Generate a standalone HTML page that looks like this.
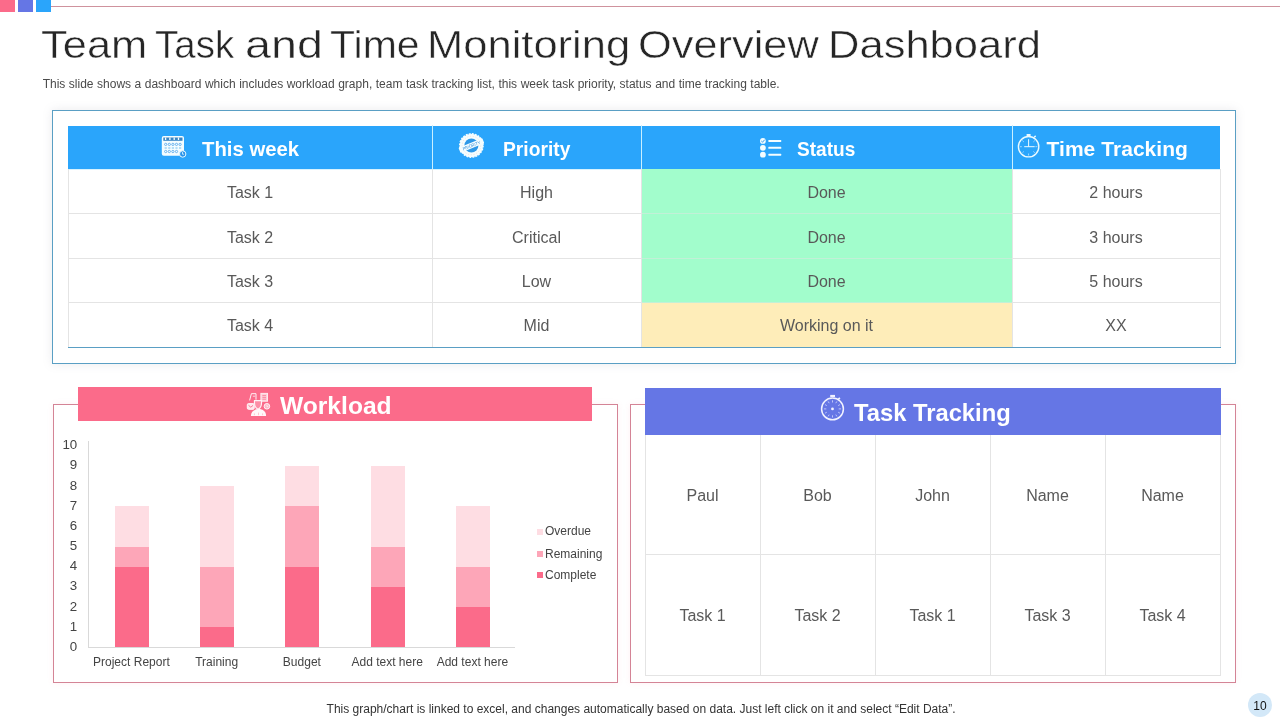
<!DOCTYPE html>
<html lang="en">
<head>
<meta charset="utf-8">
<title>Team Task and Time Monitoring Overview Dashboard</title>
<style>
*{box-sizing:border-box;margin:0;padding:0}
html,body{width:1280px;height:720px;overflow:hidden;background:#fff}
body{position:relative;font-family:"Liberation Sans",Arial,sans-serif;color:#555}
.abs{position:absolute}
svg{position:absolute;overflow:visible}
.sq{position:absolute;top:0;height:11.5px;width:15px}
.title{position:absolute;left:0;top:21px;width:1280px;height:48px;font-size:39px;line-height:48px;color:#262626;white-space:nowrap}
.title span{position:absolute;top:0;display:block;transform-origin:0 0;-webkit-text-stroke:.5px #fff}
.sub{position:absolute;left:42.7px;top:77px;font-size:12px;line-height:14px;color:#4a4a4a;white-space:nowrap;word-spacing:.17px}
.panel1{position:absolute;left:52px;top:110px;width:1184px;height:254px;border:1px solid #5a9fc4;box-shadow:0 0 9px rgba(130,130,150,.17);background:#fff}
.t1{position:absolute;left:68px;top:125px;width:1153px;height:223px}
.t1 .hd{position:absolute;top:.5px;height:43.5px;background:#2aa5fb}
.t1 .c{position:absolute;font-size:16px;line-height:18px;text-align:center;color:#595959;white-space:nowrap}
.hl{position:absolute;background:#e4e4e4}
.htxt{position:absolute;transform-origin:0 0;top:10.5px;line-height:26px;white-space:nowrap;color:#fff;font-weight:bold;font-size:21px}
.panel2{position:absolute;left:53px;top:404px;width:565px;height:279px;border:1px solid #d48496;box-shadow:0 0 6px rgba(250,120,150,.10)}
.panel3{position:absolute;left:630px;top:404px;width:606px;height:279px;border:1px solid #d48496;box-shadow:0 0 6px rgba(250,120,150,.10)}
.wl{position:absolute;left:78px;top:387px;width:514px;height:34px;background:#fb6b8a}
.tt{position:absolute;left:645px;top:387.6px;width:576px;height:47px;background:#6576e5}
.ptxt{position:absolute;white-space:nowrap;color:#fff;font-weight:bold;font-size:24px;line-height:28px;transform-origin:0 0}
.yl{position:absolute;left:50px;width:27.2px;text-align:right;font-size:13.3px;line-height:16px;color:#444}
.xl{position:absolute;top:654.5px;width:100px;text-align:center;font-size:12px;line-height:14px;color:#444;white-space:nowrap}
.bar{position:absolute;width:34px}
.lg{position:absolute;left:537px;width:6px;height:6px}
.lt{position:absolute;left:545px;font-size:12px;line-height:14px;color:#444;white-space:nowrap}
.c2{position:absolute;width:115px;text-align:center;font-size:16px;line-height:18px;color:#595959}
.foot{position:absolute;left:326.6px;top:702px;font-size:12px;line-height:14px;color:#333;white-space:nowrap}
.pn{position:absolute;left:1248px;top:693px;width:24px;height:24px;border-radius:50%;background:#d3e8f8;font-size:12px;line-height:26px;text-align:center;color:#111}
</style>
</head>
<body>
<!-- top decoration -->
<div class="abs" style="left:51px;top:6px;width:1229px;height:1px;background:#cf929d"></div>
<div class="sq" style="left:0;background:#fb6b8a"></div>
<div class="sq" style="left:18px;background:#6576e5"></div>
<div class="sq" style="left:36px;background:#2aa5fb"></div>
<div class="title"><span style="left:40.9px;transform:scaleX(1.1141)">Team</span> <span style="left:154.8px;transform:scaleX(0.9873)">Task</span> <span style="left:244.6px;transform:scaleX(1.1967)">and</span> <span style="left:330.2px;transform:scaleX(1.0518)">Time</span> <span style="left:426.7px;transform:scaleX(1.1158)">Monitoring</span> <span style="left:638.0px;transform:scaleX(1.1125)">Overview</span> <span style="left:827.7px;transform:scaleX(1.1162)">Dashboard</span></div>
<div class="sub">This slide shows a dashboard which includes workload graph, team task tracking list, this week task priority, status and time tracking table.</div>
<!-- top panel -->
<div class="panel1"></div>
<div class="t1">
<div class="hd" style="left:0;width:1152px"></div>
<div class="abs" style="left:0;top:44px;width:1152px;height:1px;background:#d6f3ff"></div>
<div class="abs" style="left:0;top:0;width:1152px;height:1px;background:rgba(255,255,255,.4)"></div>
<div class="abs" style="left:573px;top:44px;width:371px;height:134px;background:#a2fdcc"></div>
<div class="abs" style="left:573px;top:178px;width:371px;height:44px;background:#feedb9"></div>
<div class="c" style="left:0px;width:364px;top:59.44px">Task 1</div>
<div class="c" style="left:364px;width:209px;top:59.44px">High</div>
<div class="c" style="left:573px;width:371px;top:59.44px">Done</div>
<div class="c" style="left:944px;width:208px;top:59.44px">2 hours</div>
<div class="c" style="left:0px;width:364px;top:103.54px">Task 2</div>
<div class="c" style="left:364px;width:209px;top:103.54px">Critical</div>
<div class="c" style="left:573px;width:371px;top:103.54px">Done</div>
<div class="c" style="left:944px;width:208px;top:103.54px">3 hours</div>
<div class="c" style="left:0px;width:364px;top:147.99px">Task 3</div>
<div class="c" style="left:364px;width:209px;top:147.99px">Low</div>
<div class="c" style="left:573px;width:371px;top:147.99px">Done</div>
<div class="c" style="left:944px;width:208px;top:147.99px">5 hours</div>
<div class="c" style="left:0px;width:364px;top:191.69px">Task 4</div>
<div class="c" style="left:364px;width:209px;top:191.69px">Mid</div>
<div class="c" style="left:573px;width:371px;top:191.69px">Working on it</div>
<div class="c" style="left:944px;width:208px;top:191.69px">XX</div>
<div class="hl" style="left:0;top:88px;width:574px;height:1px"></div>
<div class="abs" style="left:574px;top:88px;width:370px;height:1px;background:rgba(225,228,225,.5)"></div>
<div class="hl" style="left:944px;top:88px;width:208px;height:1px"></div>
<div class="hl" style="left:0;top:133px;width:574px;height:1px"></div>
<div class="abs" style="left:574px;top:133px;width:370px;height:1px;background:rgba(225,228,225,.5)"></div>
<div class="hl" style="left:944px;top:133px;width:208px;height:1px"></div>
<div class="hl" style="left:0;top:177px;width:574px;height:1px"></div>
<div class="abs" style="left:574px;top:177px;width:370px;height:1px;background:rgba(225,228,225,.5)"></div>
<div class="hl" style="left:944px;top:177px;width:208px;height:1px"></div>
<div class="hl" style="left:0px;top:44px;width:1px;height:178px"></div>
<div class="hl" style="left:364px;top:44px;width:1px;height:178px"></div>
<div class="hl" style="left:573px;top:44px;width:1px;height:178px"></div>
<div class="hl" style="left:944px;top:44px;width:1px;height:178px"></div>
<div class="hl" style="left:1152px;top:44px;width:1px;height:178px"></div>
<div class="abs" style="left:364px;top:0;width:1px;height:44px;background:#c9f0ff"></div>
<div class="abs" style="left:573px;top:0;width:1px;height:44px;background:#c9f0ff"></div>
<div class="abs" style="left:944px;top:0;width:1px;height:44px;background:#c9f0ff"></div>
<div class="abs" style="left:0;top:222px;width:1153px;height:1px;background:#5a9fc4"></div>
<div class="htxt" style="left:134px;transform:scaleX(.967)">This week</div>
<div class="htxt" style="left:435px;transform:scaleX(.916)">Priority</div>
<div class="htxt" style="left:729px;transform:scaleX(.908)">Status</div>
<div class="htxt" style="left:978.5px;letter-spacing:.05px">Time Tracking</div>
<svg style="left:0;top:0" width="1152" height="44" viewBox="68 125 1152 44">
<!-- calendar icon -->
<g>
<rect x="161.8" y="136.1" width="22.2" height="19.7" rx="2" fill="#f4fdff"/>
<rect x="163.3" y="137.5" width="19.2" height="3.3" fill="#3b86c4"/>
<path d="M165.6 137.5v2.6M169.9 137.5v2.6M174.2 137.5v2.6M178.5 137.5v2.6" stroke="#f4fdff" stroke-width="1.3"/>
<g fill="none" stroke="#3f9be8" stroke-width=".7">
<circle cx="165.7" cy="144.4" r="1.15"/><circle cx="169.3" cy="144.4" r="1.15"/><circle cx="172.9" cy="144.4" r="1.15"/><circle cx="176.5" cy="144.4" r="1.15"/><circle cx="180.1" cy="144.4" r="1.15"/>
<circle cx="165.7" cy="151.5" r="1.15"/><circle cx="169.3" cy="151.5" r="1.15"/><circle cx="172.9" cy="151.5" r="1.15"/><circle cx="176.5" cy="151.5" r="1.15"/>
</g>
<path d="M164.6 147.9h16.6" stroke="#9fd3f5" stroke-width="1.5" stroke-dasharray="2.2 1.4"/>
<circle cx="182.7" cy="154" r="3.2" fill="#2a93ea" stroke="#e9fbff" stroke-width="1"/>
<path d="M182.5 152.1v2.1h1.5" fill="none" stroke="#e9fbff" stroke-width=".8"/>
</g>
<!-- priority stamp icon -->
<g>
<circle cx="471.4" cy="145.5" r="11.6" fill="#f4fdff" stroke="#f4fdff" stroke-width="1.6" stroke-dasharray="1.9 1.14"/>
<circle cx="471.4" cy="145.5" r="9.3" fill="none" stroke="#f5c9b8" stroke-width=".5" stroke-dasharray="1.2 1.6"/>
<circle cx="471.4" cy="145.5" r="7" fill="#2d98e8"/>
<g transform="rotate(-22 471.4 145.5)">
<rect x="458.6" y="142.7" width="25.6" height="5.6" rx=".8" fill="#f4fdff"/>
<text x="471.4" y="147.2" font-family="'Liberation Sans',Arial,sans-serif" font-size="4.4" text-anchor="middle" fill="#3b93dc" textLength="18.5" lengthAdjust="spacingAndGlyphs">PRIORITY</text>
</g>
</g>
<!-- status list icon -->
<g fill="#f4fdff">
<circle cx="762.9" cy="140.9" r="2.9"/><circle cx="762.9" cy="147.8" r="2.9"/><circle cx="762.9" cy="154.7" r="2.9"/>
<rect x="768.3" y="139.9" width="13" height="2" rx=".6"/><rect x="768.3" y="146.8" width="13" height="2" rx=".6"/><rect x="768.3" y="153.7" width="13" height="2" rx=".6"/>
<path d="M761.3 141l1.2 1.2 2.2-2.5" fill="none" stroke="#2a8fe0" stroke-width=".9"/>
</g>
<!-- time tracking stopwatch -->
<g fill="none" stroke="#eafaff" stroke-width="1.35">
<circle cx="1028.6" cy="146.7" r="10.2"/>
<path d="M1026.6 135h4" stroke-width="2"/>
<path d="M1028.6 135.6v1.2M1034.2 137.2l1.5-1.3" stroke-width="1.4"/>
<path d="M1028.6 139.2v7.5M1024.2 146.7h10.5" stroke-width="1"/>
<g stroke-width=".8" stroke="#bfe6ff">
<path d="M1028.6 153.5v2M1021.8 146.7h-2M1035.4 146.7h2M1023.8 141.9l-1.4-1.4M1033.4 141.9l1.4-1.4M1023.8 151.5l-1.4 1.4M1033.4 151.5l1.4 1.4"/>
</g>
</g>
</svg>
</div>
<!-- workload panel -->
<div class="panel2"></div>
<div class="wl"></div>
<div class="abs" style="left:88px;top:441px;width:1px;height:207px;background:#d9d9d9"></div>
<div class="abs" style="left:88px;top:647px;width:427px;height:1px;background:#d9d9d9"></div>
<div class="yl" style="top:638.9px">0</div>
<div class="yl" style="top:618.7px">1</div>
<div class="yl" style="top:598.5px">2</div>
<div class="yl" style="top:578.3px">3</div>
<div class="yl" style="top:558.2px">4</div>
<div class="yl" style="top:538.0px">5</div>
<div class="yl" style="top:517.8px">6</div>
<div class="yl" style="top:497.7px">7</div>
<div class="yl" style="top:477.5px">8</div>
<div class="yl" style="top:457.3px">9</div>
<div class="yl" style="top:437.1px">10</div>
<div class="bar" style="left:114.9px;top:566.82px;height:80.68px;background:#fb6b8a"></div>
<div class="bar" style="left:114.9px;top:546.65px;height:20.17px;background:#fda6b8"></div>
<div class="bar" style="left:114.9px;top:506.31px;height:40.34px;background:#fedde3"></div>
<div class="xl" style="left:81.4px">Project Report</div>
<div class="bar" style="left:200.2px;top:627.33px;height:20.17px;background:#fb6b8a"></div>
<div class="bar" style="left:200.2px;top:566.82px;height:60.51px;background:#fda6b8"></div>
<div class="bar" style="left:200.2px;top:486.14px;height:80.68px;background:#fedde3"></div>
<div class="xl" style="left:166.7px">Training</div>
<div class="bar" style="left:285.4px;top:566.82px;height:80.68px;background:#fb6b8a"></div>
<div class="bar" style="left:285.4px;top:506.31px;height:60.51px;background:#fda6b8"></div>
<div class="bar" style="left:285.4px;top:465.97px;height:40.34px;background:#fedde3"></div>
<div class="xl" style="left:251.9px">Budget</div>
<div class="bar" style="left:370.7px;top:586.99px;height:60.51px;background:#fb6b8a"></div>
<div class="bar" style="left:370.7px;top:546.65px;height:40.34px;background:#fda6b8"></div>
<div class="bar" style="left:370.7px;top:465.97px;height:80.68px;background:#fedde3"></div>
<div class="xl" style="left:337.2px">Add text here</div>
<div class="bar" style="left:455.9px;top:607.16px;height:40.34px;background:#fb6b8a"></div>
<div class="bar" style="left:455.9px;top:566.82px;height:40.34px;background:#fda6b8"></div>
<div class="bar" style="left:455.9px;top:506.31px;height:60.51px;background:#fedde3"></div>
<div class="xl" style="left:422.4px">Add text here</div>
<div class="lg" style="top:529.2px;background:#fedde3"></div>
<div class="lt" style="top:524.3px">Overdue</div>
<div class="lg" style="top:551.0px;background:#fda6b8"></div>
<div class="lt" style="top:546.5px">Remaining</div>
<div class="lg" style="top:571.9px;background:#fb6b8a"></div>
<div class="lt" style="top:567.5px">Complete</div>
<div class="ptxt" style="left:280px;top:391.8px;transform:scaleX(1.025)">Workload</div>
<svg style="left:240px;top:388px" width="36" height="32" viewBox="240 388 36 32">
<g fill="none" stroke="#fff3f6" stroke-width="1">
<!-- clipboard top-left -->
<path d="M249.600 400.400l1.800-6.700h4.600v6"/>
<path d="M252.800 396.200h2.400" stroke-width=".8"/>
<!-- document top-right -->
<rect x="260.900" y="393.400" width="6.600" height="7.800" fill="#fecfd9" stroke="#ffe9ee"/>
<path d="M262.400 395.600h3.600M262.400 397.400h3.600M262.400 399.200h3.600" stroke="#fb6b8a" stroke-width=".7"/>
<!-- envelope left -->
<rect x="247.300" y="403.600" width="6.900" height="5.700" rx="1.200" fill="#ffe6ec" stroke="#fff3f6"/>
<path d="M248.500 405.300l2.300 1.900 2.300-1.900" stroke="#fb6b8a" stroke-width=".9"/>
<!-- clock right -->
<circle cx="266.900" cy="406.300" r="2.800" fill="#fdb9c7"/>
<path d="M266.900 404.800v1.700h1.300" stroke-width=".7"/>
<!-- head -->
<path d="M254.500 400.600h7c.4 4.800-1.100 7.500-3.500 8.700-2.400-1.200-3.900-3.900-3.500-8.700z" stroke-width="1.200" fill="#fc8ea6"/>
</g>
<!-- body -->
<path d="M250.900 416c0-4.200 3-6.900 7.600-6.900s7.600 2.700 7.600 6.900z" fill="#fff8fa"/>
<path d="M254.400 413.400v1.800M258.500 412.600v2.600M262.600 413.400v1.800" stroke="#fdb9c7" stroke-width=".8"/>
</svg>
<!-- task tracking panel -->
<div class="panel3"></div>
<div class="tt"></div>
<div class="hl" style="left:645px;top:435px;width:1px;height:241px"></div>
<div class="hl" style="left:760px;top:435px;width:1px;height:241px"></div>
<div class="hl" style="left:875px;top:435px;width:1px;height:241px"></div>
<div class="hl" style="left:990px;top:435px;width:1px;height:241px"></div>
<div class="hl" style="left:1105px;top:435px;width:1px;height:241px"></div>
<div class="hl" style="left:1220px;top:435px;width:1px;height:241px"></div>
<div class="hl" style="left:645px;top:553.5px;width:576px;height:1.1px"></div>
<div class="hl" style="left:645px;top:675px;width:576px;height:1px"></div>
<div class="c2" style="left:645px;top:487px">Paul</div>
<div class="c2" style="left:645px;top:607px">Task 1</div>
<div class="c2" style="left:760px;top:487px">Bob</div>
<div class="c2" style="left:760px;top:607px">Task 2</div>
<div class="c2" style="left:875px;top:487px">John</div>
<div class="c2" style="left:875px;top:607px">Task 1</div>
<div class="c2" style="left:990px;top:487px">Name</div>
<div class="c2" style="left:990px;top:607px">Task 3</div>
<div class="c2" style="left:1105px;top:487px">Name</div>
<div class="c2" style="left:1105px;top:607px">Task 4</div>
<div class="ptxt" style="left:854px;top:398.7px;transform:scaleX(.99)">Task Tracking</div>
<svg style="left:812px;top:390px" width="40" height="34" viewBox="812 390 40 34">
<g fill="none" stroke="#f1f2ff" stroke-width="1.500">
<circle cx="832.5" cy="408.900" r="10.900"/>
<path d="M830.200 396h4.800" stroke-width="2.200"/>
<path d="M838.200 399.400l1.700-1.500" stroke-width="1.800"/>
</g>
<circle cx="832.500" cy="408.900" r="1.400" fill="#f1f2ff"/>
<g stroke="#c9cefb" stroke-width=".9" fill="none">
<path d="M832.500 400.300v2.200M832.500 415.300v2.200M823.900 408.900h2.400M838.700 408.900h2.400"/>
<path d="M828.200 401.450l1 1.750M836.800 401.450l-1 1.750M828.200 416.350l1-1.750M836.800 416.350l-1-1.750M825.050 404.600l1.750 1M839.950 404.600l-1.750 1M825.050 413.200l1.750-1M839.950 413.200l-1.750-1"/>
</g>
</svg>
<div class="foot">This graph/chart is linked to excel, and changes automatically based on data. Just left click on it and select “Edit Data”.</div>
<div class="pn">10</div>
</body>
</html>
